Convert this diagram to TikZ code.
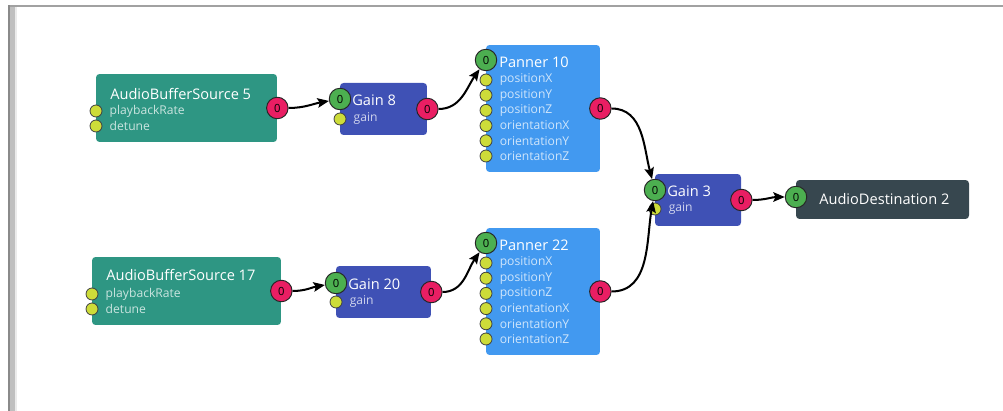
\documentclass[tikz,border=0pt]{standalone}
\usepackage{fontspec}
\setmainfont{Open Sans}
\usetikzlibrary{arrows.meta, positioning}
\definecolor{SrcTeal}{HTML}{2E9683}
\definecolor{GainIndigo}{HTML}{3F51B5}
\definecolor{PanBlue}{HTML}{4299F0}
\definecolor{DestSlate}{HTML}{37474F}
\definecolor{PortGreen}{HTML}{4CAF50}
\definecolor{PortPink}{HTML}{E91E63}
\definecolor{ParamLime}{HTML}{CDDC39}
\definecolor{FrameGray}{HTML}{8A8A8A}

\begin{document}
\begin{tikzpicture}[x=0.02cm, y=-0.02cm,
  unit/.style={rounded corners=2pt, inner sep=0pt},
  title/.style={anchor=west, inner sep=0pt, text=white, font=\fontsize{8.3}{9}\selectfont},
  lbl/.style={text=white, text opacity=0.75, inner sep=0pt, font=\fontsize{6.9}{8}\selectfont},
  port/.style={circle, draw=black!85, line width=0.55pt, minimum size=0.43cm,
               inner sep=0pt, font=\fontsize{6.4}{7}\selectfont},
  inport/.style={port, fill=PortGreen},
  outport/.style={port, fill=PortPink},
  param/.style={circle, draw=black!75, line width=0.45pt, fill=ParamLime,
                minimum size=0.24cm, inner sep=0pt,
                label={[lbl, label distance=0.14cm]right:#1}},
  wire/.style={-{Stealth[length=6.5pt, width=5.4pt, inset=1.2pt]}, line width=1.15pt}
]
\useasboundingbox (0,0) rectangle (1003,411);

% window frame
\fill[FrameGray!80] (8,5) rectangle (1003,7);
\fill[FrameGray] (8,5) rectangle (10,411);
\fill[black!25] (10,7) rectangle (15,411);
\fill[black!8] (15,7) rectangle (17,411);

% ── upper chain ──
\node[unit, fill=SrcTeal, minimum width=3.62cm, minimum height=1.36cm] (src5) at (186.5,108) {};
\node[title] (src5t) at (110,94) {AudioBufferSource 5};
\node[param=playbackRate] (src5a) at (96,111) {};
\node[param=detune] (src5b) at (96,126) {};
\node[outport] (src5o) at (src5.east) {0};

\node[unit, fill=GainIndigo, minimum width=1.74cm, minimum height=1.04cm] (g8) at (383.5,109) {};
\node[inport] (g8i) at (340,99) {0};
\node[title] (g8t) at (352,100) {Gain 8};
\node[param=gain] (g8a) at (340,119) {};
\node[outport] (g8o) at (g8.east) {0};

\node[unit, fill=PanBlue, minimum width=2.28cm, minimum height=2.54cm] (p10) at (543,108.5) {};
\node[inport] (p10i) at (486,60) {0};
\node[title] (p10t) at (499,62) {Panner 10};
\foreach \nm [count=\k] in {positionX,positionY,positionZ,orientationX,orientationY,orientationZ}
  \node[param=\nm] (p10-\k) at (486,64.8+15.2*\k) {};
\node[outport] (p10o) at (p10.east) {0};

% ── lower chain ──
\node[unit, fill=SrcTeal, minimum width=3.78cm, minimum height=1.36cm] (src17) at (186.5,291) {};
\node[title] (src17t) at (106,275) {AudioBufferSource 17};
\node[param=playbackRate] (src17a) at (92,294) {};
\node[param=detune] (src17b) at (92,309) {};
\node[outport] (src17o) at (src17.east) {0};

\node[unit, fill=GainIndigo, minimum width=1.9cm, minimum height=1.04cm] (g20) at (383.5,292) {};
\node[inport] (g20i) at (336,283) {0};
\node[title] (g20t) at (348,284) {Gain 20};
\node[param=gain] (g20a) at (336,302) {};
\node[outport] (g20o) at (g20.east) {0};

\node[unit, fill=PanBlue, minimum width=2.28cm, minimum height=2.54cm] (p22) at (543,291.5) {};
\node[inport] (p22i) at (486,243) {0};
\node[title] (p22t) at (499,245) {Panner 22};
\foreach \nm [count=\k] in {positionX,positionY,positionZ,orientationX,orientationY,orientationZ}
  \node[param=\nm] (p22-\k) at (486,247.8+15.2*\k) {};
\node[outport] (p22o) at (p22.east) {0};

% ── mix and output ──
\node[unit, fill=GainIndigo, minimum width=1.72cm, minimum height=1.04cm] (g3) at (698,200) {};
\node[param=gain] (g3a) at (655,209) {};
\node[inport] (g3i) at (655,190) {0};
\node[title] (g3t) at (667,191) {Gain 3};
\node[outport] (g3o) at (g3.east) {0};

\node[unit, fill=DestSlate, minimum width=3.46cm, minimum height=0.78cm] (dest2) at (882.5,199.5) {};
\node[inport] (dest2i) at (796,197) {0};
\node[title] (dest2t) at (819,199) {AudioDestination 2};

% connections
\draw[wire] (src5o) to[out=0, in=190] (g8i);
\draw[wire] (g8o) to[out=0, in=-125] (p10i);
\draw[wire] (src17o) to[out=0, in=190] (g20i);
\draw[wire] (g20o) to[out=0, in=-125] (p22i);
\draw[wire] (p10o) to[out=0, in=105] (g3i);
\draw[wire] (p22o) to[out=0, in=-100] (g3i);
\draw[wire] (g3o) to[out=0, in=180] (dest2i);

\end{tikzpicture}
\end{document}
